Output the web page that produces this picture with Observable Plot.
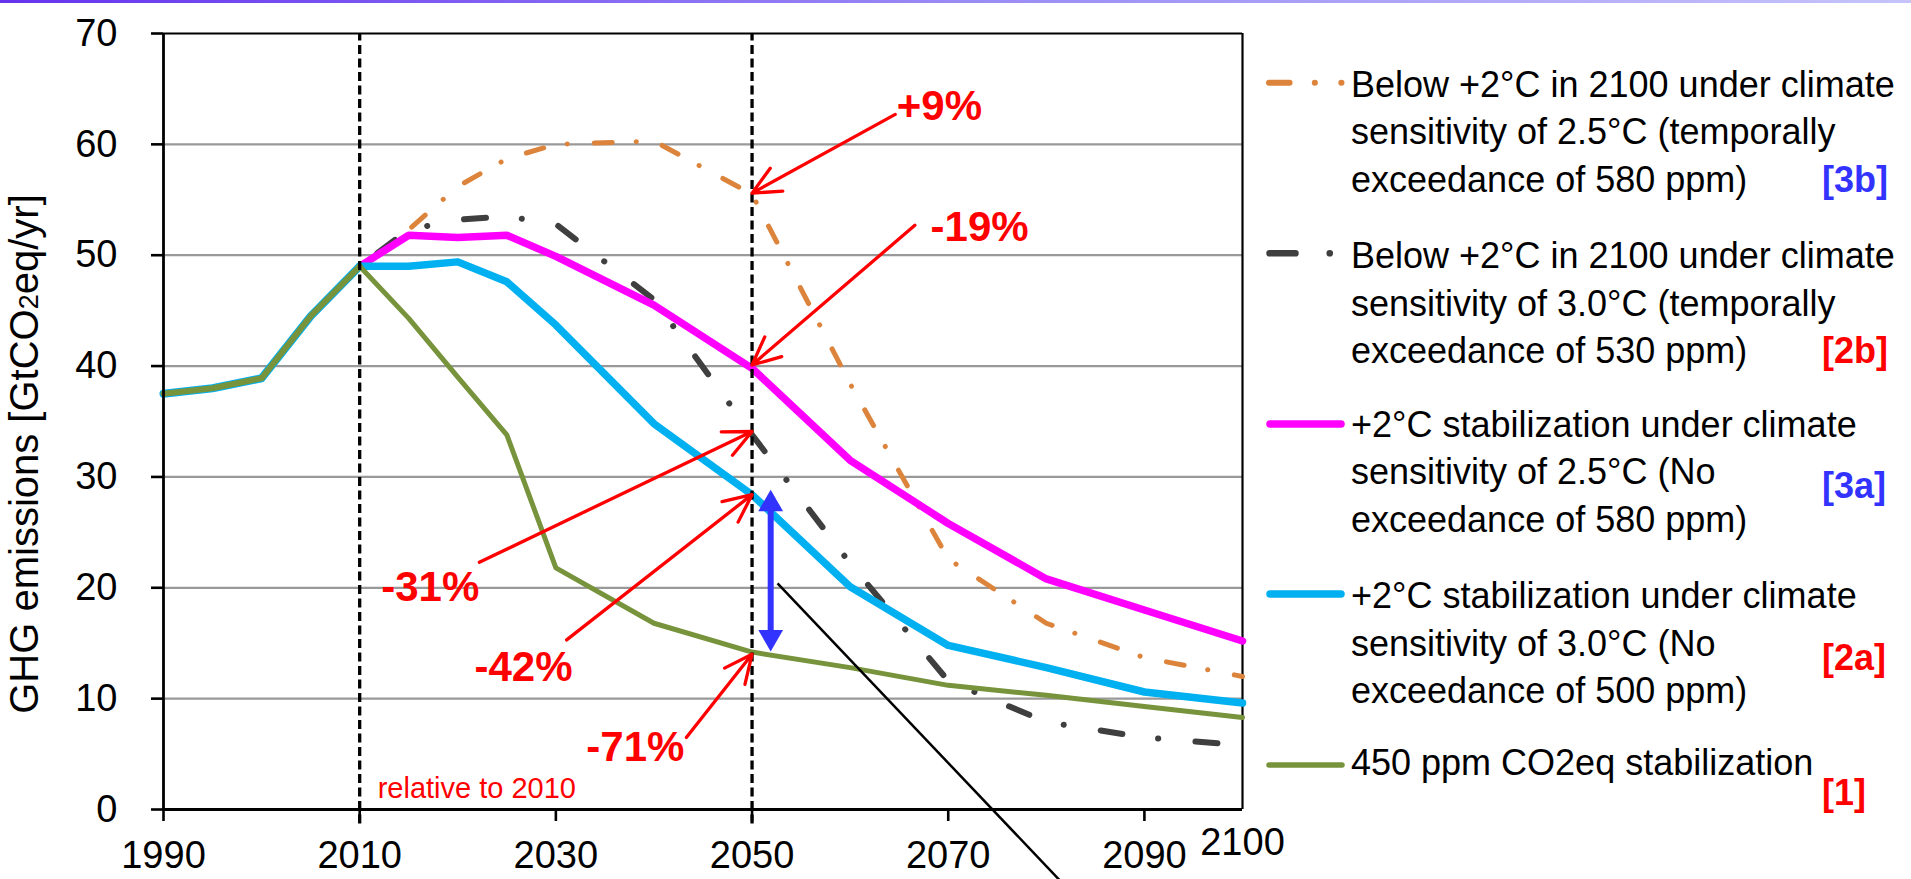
<!DOCTYPE html>
<html><head><meta charset="utf-8">
<script src="https://cdn.jsdelivr.net/npm/d3@7"></script>
<script src="https://cdn.jsdelivr.net/npm/@observablehq/plot@0.6"></script>
<style>
body{margin:0;background:#fff;}
#wrap{position:relative;width:1911px;height:879px;overflow:hidden;background:#fff;}
#topbar{position:absolute;left:0;top:0;width:1911px;height:3px;background:linear-gradient(90deg,#6633ee,#9a8af5 50%,#c6c3fa);z-index:3;}
#chart{position:absolute;left:0;top:0;}
#legend{position:absolute;left:0;top:0;pointer-events:none;}
</style></head>
<body><div id="wrap"><div id="topbar"></div><div id="chart"></div><svg id="legend" width="1911" height="879"></svg></div>
<script>
// ---------- data ----------
const historyYears = [1990, 1995, 2000, 2005, 2010];
const historyValues = [37.5, 38.0, 38.9, 44.5, 49.0];
const scenarioYears = [2010, 2015, 2020, 2025, 2030, 2040, 2050, 2060, 2070, 2080, 2090, 2100];
const below2C_cs25 = [49.0, 52.3, 56.2, 58.7, 60.0, 60.3, 55.5, 38.4, 22.6, 16.8, 13.7, 12.0]; // [3b]
const below2C_cs30 = [49.0, 52.3, 53.2, 53.5, 52.8, 46.0, 33.8, 22.2, 11.6, 7.9, 6.5, 5.8];   // [2b]
const stab2C_cs25 = [49.0, 51.8, 51.6, 51.8, 49.9, 45.5, 39.8, 31.5, 25.8, 20.8, 18.0, 15.2];  // [3a]
const stab2C_cs30 = [49.0, 49.0, 49.4, 47.6, 43.7, 34.8, 28.4, 20.1, 14.8, 12.8, 10.6, 9.6];   // [2a]
const stab450ppm = [49.0, 44.3, 39.0, 33.8, 21.8, 16.8, 14.2, 12.8, 11.2, 10.3, 9.3, 8.3];     // [1]

const xTicks = [1990, 2010, 2030, 2050, 2070, 2090];
const xEndTick = [2100];
const yTicks = [0, 10, 20, 30, 40, 50, 60, 70];
const gridTicks = [10, 20, 30, 40, 50, 60];
const markerYears = [2010, 2050];

const changeLabels = ["+9%", "-19%", "-31%", "-42%", "-71%"];
const changeLabelYears = [2069.1, 2073.2, 2017.2, 2026.7, 2038.1];
const changeLabelValues = [63.4, 52.5, 20.0, 12.8, 5.6];
const arrowFromYears = [2064.6, 2066.6, 2022.2, 2031.1, 2043.3];
const arrowFromValues = [62.7, 52.7, 22.3, 15.3, 6.5];
const arrowToYear = 2050;
const arrowToValues = [55.6, 40.1, 34.1, 28.4, 14.0];

const gapArrowYear = 2051.9;
const gapArrowTop = 27.55;
const gapArrowBottom = 15.55;
const pointerLine = {fromYear: 2052.6, fromValue: 20.4, toYear: 2083.1, toValue: -8};

const legendLines = [
  ["Below +2°C in 2100 under climate", "sensitivity of 2.5°C (temporally", "exceedance of 580 ppm)"],
  ["Below +2°C in 2100 under climate", "sensitivity of 3.0°C (temporally", "exceedance of 530 ppm)"],
  ["+2°C stabilization under climate", "sensitivity of 2.5°C (No", "exceedance of 580 ppm)"],
  ["+2°C stabilization under climate", "sensitivity of 3.0°C (No", "exceedance of 500 ppm)"],
  ["450 ppm CO2eq stabilization"]
];
const legendTags = ["[3b]", "[2b]", "[3a]", "[2a]", "[1]"];

// ---------- styles ----------
const font = '"Liberation Sans", Arial, Helvetica, sans-serif';
const C = {orange: "#DD843C", grey: "#3F3F3F", magenta: "#FF00FF", cyan: "#00B0F0", green: "#77933C", red: "#FF0000", blue: "#3333FF"};
const rows = (ys, vs) => ys.map((year, i) => ({year, value: vs[i]}));

const lineOpts = {x: "year", y: "value", strokeLinecap: "round", strokeLinejoin: "round"};

const arrows = changeLabels.map((label, i) => ({
  label, lx: changeLabelYears[i], ly: changeLabelValues[i],
  x1: arrowFromYears[i], y1: arrowFromValues[i], x2: arrowToYear, y2: arrowToValues[i]
}));

const plot = Plot.plot({
  width: 1911, height: 879,
  marginLeft: 163, marginRight: 669, marginTop: 33, marginBottom: 70,
  style: {fontFamily: font, background: "transparent"},
  x: {domain: [1990, 2100]},
  y: {domain: [0, 70]},
  marks: [
    Plot.gridY(gridTicks, {stroke: "#999999", strokeOpacity: 1, strokeWidth: 2.2}),
    Plot.ruleY([70], {x1: 1990, x2: 2100, stroke: "#000", strokeWidth: 2.2}),
    Plot.ruleX(xEndTick, {y1: 0, y2: 70, stroke: "#000", strokeWidth: 2.2}),
    // series
    Plot.line(rows(scenarioYears, below2C_cs25), {...lineOpts, stroke: C.orange, strokeWidth: 5, strokeDasharray: "18 24 0.1 27", strokeDashoffset: 4}),
    Plot.line(rows(scenarioYears, below2C_cs30), {...lineOpts, stroke: C.grey, strokeWidth: 6, strokeDasharray: "22 36 0.1 37.4", strokeDashoffset: -22}),
    Plot.line(rows(scenarioYears, stab2C_cs25), {...lineOpts, stroke: C.magenta, strokeWidth: 7.5}),
    Plot.line(rows(historyYears, historyValues), {...lineOpts, stroke: C.cyan, strokeWidth: 8}),
    Plot.line(rows(scenarioYears, stab2C_cs30), {...lineOpts, stroke: C.cyan, strokeWidth: 7.5}),
    Plot.line(rows(scenarioYears, stab450ppm), {...lineOpts, stroke: C.green, strokeWidth: 5}),
    Plot.line(rows(historyYears, historyValues), {...lineOpts, stroke: C.green, strokeWidth: 6}),
    // dashed year markers
    Plot.ruleX(markerYears, {y1: -1.3, y2: 70, stroke: "#000", strokeWidth: 3.3, strokeDasharray: "9 4.5"}),
    // axes
    Plot.ruleX([1990], {y1: 0, y2: 70, stroke: "#000", strokeWidth: 2.8}),
    Plot.ruleY([0], {x1: 1990, x2: 2100, stroke: "#000", strokeWidth: 2.8}),
    Plot.axisY(yTicks, {tickSize: 12, tickPadding: 34, fontSize: 38, strokeWidth: 2.6, label: null, fill: "#000"}),
    Plot.axisX(xTicks, {tickSize: 12, tickPadding: 20, fontSize: 38, strokeWidth: 2.6, label: null, tickFormat: d => String(d), fill: "#000"}),
    Plot.text(xEndTick, {x: d => d, y: 0, text: d => String(d), fontSize: 38, lineAnchor: "bottom", dy: 45, fill: "#000"}),
    // annotations
    Plot.text([{t: "relative to 2010"}], {x: () => markerYears[0], y: () => 0, text: "t", dx: 18, dy: -11.6, lineAnchor: "bottom", textAnchor: "start", fill: C.red, fontSize: 29}),
    Plot.link([pointerLine], {x1: "fromYear", y1: "fromValue", x2: "toYear", y2: "toValue", stroke: "#000", strokeWidth: 2.5}),
    Plot.ruleX([gapArrowYear], {y1: gapArrowBottom, y2: gapArrowTop, stroke: C.blue, strokeWidth: 6}),
    Plot.dot([gapArrowTop], {x: () => gapArrowYear, y: d => d, symbol: "triangle", r: 9.2, fill: C.blue, stroke: null}),
    Plot.dot([gapArrowBottom], {x: () => gapArrowYear, y: d => d, symbol: "triangle", r: 9.2, rotate: 180, fill: C.blue, stroke: null}),
    Plot.arrow(arrows, {x1: "x1", y1: "y1", x2: "x2", y2: "y2", stroke: C.red, strokeWidth: 3.3, headAngle: 50, headLength: 14}),
    Plot.text(arrows, {x: "lx", y: "ly", text: "label", fill: C.red, fontSize: 42, fontWeight: "bold"})
  ]
});
document.getElementById("chart").appendChild(plot);

// y-axis title with smaller "2"
const yl = d3.select(plot).append("text")
  .attr("transform", "translate(37.5,454) rotate(-90)")
  .attr("text-anchor", "middle").attr("font-family", font).attr("font-size", 40).attr("fill", "#000");
yl.append("tspan").text("GHG emissions [GtCO");
yl.append("tspan").attr("font-size", 27).text("2");
yl.append("tspan").text("eq/yr]");

// ---------- legend ----------
const leg = d3.select("#legend").attr("font-family", font);
const firstBaselines = [96.7, 268.3, 436.7, 608.3, 775];
const lineStep = 47.5;
legendLines.forEach((lines, i) => {
  lines.forEach((s, j) => {
    leg.append("text").attr("x", 1351).attr("y", firstBaselines[i] + j * lineStep)
      .attr("font-size", 36).attr("fill", "#000").text(s);
  });
});
const tagBaselines = [191.7, 363.3, 498, 670, 805];
const tagColors = [C.blue, C.red, C.blue, C.red, C.red];
legendTags.forEach((s, i) => {
  leg.append("text").attr("x", 1822).attr("y", tagBaselines[i]).attr("font-size", 36)
    .attr("font-weight", "bold").attr("fill", tagColors[i]).text(s);
});
const samples = [
  {y: 82.7, x1: 1269, x2: 1341.5, stroke: C.orange, w: 6, dash: "20.6 25.2 0.1 26.4"},
  {y: 253.3, x1: 1269.5, x2: 1329.8, stroke: C.grey, w: 6.5, dash: "26 34.2 0.1 50"},
  {y: 424, x1: 1270, x2: 1341, stroke: C.magenta, w: 7.5, dash: null},
  {y: 594, x1: 1270, x2: 1341, stroke: C.cyan, w: 7.5, dash: null},
  {y: 765, x1: 1269, x2: 1342, stroke: C.green, w: 5.5, dash: null}
];
samples.forEach(s => {
  leg.append("line").attr("x1", s.x1).attr("x2", s.x2).attr("y1", s.y).attr("y2", s.y)
    .attr("stroke", s.stroke).attr("stroke-width", s.w).attr("stroke-linecap", "round")
    .attr("stroke-dasharray", s.dash);
});
</script>
</body></html>
